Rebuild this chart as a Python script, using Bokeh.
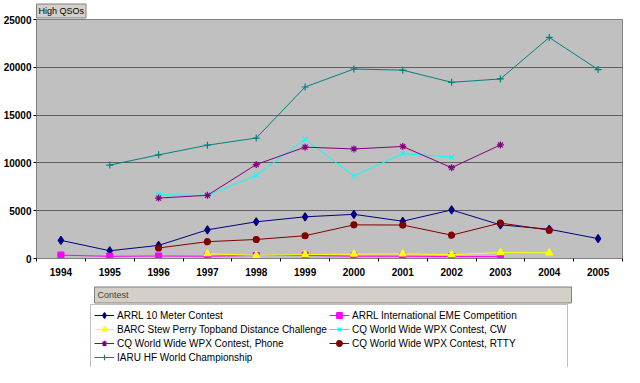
from bokeh.plotting import figure
from bokeh.layouts import column
from bokeh.models import (ColumnDataSource, Legend, LegendItem, Title, FixedTicker, Range1d)
from bokeh.embed import file_html
from bokeh.resources import INLINE

# ---- data ----
years = [1994, 1995, 1996, 1997, 1998, 1999, 2000, 2001, 2002, 2003, 2004, 2005]
y_ticks = [0, 5000, 10000, 15000, 20000, 25000]

arrl10_years = [1994, 1995, 1996, 1997, 1998, 1999, 2000, 2001, 2002, 2003, 2004, 2005]
arrl10_vals = [1900, 810, 1370, 3000, 3840, 4360, 4620, 3900, 5080, 3520, 3060, 2080]

eme_years = [1994, 1995, 1996, 1997, 1998, 1999, 2000, 2001, 2002, 2003]
eme_vals = [350, 230, 260, 240, 310, 320, 240, 240, 200, 200]

barc_years = [1997, 1998, 1999, 2000, 2001, 2002, 2003, 2004]
barc_vals = [500, 330, 400, 460, 480, 400, 620, 600]

cw_years = [1996, 1997, 1998, 1999, 2000, 2001, 2002]
cw_vals = [6670, 6600, 8690, 12470, 8620, 10970, 10610]

phone_years = [1996, 1997, 1998, 1999, 2000, 2001, 2002, 2003]
phone_vals = [6320, 6610, 9830, 11650, 11460, 11720, 9500, 11880]

rtty_years = [1996, 1997, 1998, 1999, 2000, 2001, 2002, 2003, 2004]
rtty_vals = [1100, 1760, 1990, 2380, 3520, 3500, 2440, 3710, 2960]

iaru_years = [1995, 1996, 1997, 1998, 1999, 2000, 2001, 2002, 2003, 2004, 2005]
iaru_vals = [9770, 10840, 11850, 12600, 17940, 19820, 19700, 18430, 18780, 23120, 19760]

series = [
    ("ARRL 10 Meter Contest", arrl10_years, arrl10_vals, "#000080", "diamond", 8),
    ("ARRL International EME Competition", eme_years, eme_vals, "#FF00FF", "square", 6),
    ("BARC Stew Perry Topband Distance Challenge", barc_years, barc_vals, "#FFFF00", "triangle", 7),
    ("CQ World Wide WPX Contest, CW", cw_years, cw_vals, "#00FFFF", "x", 7),
    ("CQ World Wide WPX Contest, Phone", phone_years, phone_vals, "#800080", "asterisk", 7),
    ("CQ World Wide WPX Contest, RTTY", rtty_years, rtty_vals, "#800000", "circle", 6),
    ("IARU HF World Championship", iaru_years, iaru_vals, "#008080", "cross", 7),
]
# legend fills column by column; Excel lists row by row in 2 columns
legend_order = [0, 2, 4, 6, 1, 3, 5]

W = 624
H_MAIN, H_LEG = 282, 85

# ---------------- main chart ----------------
p = figure(width=W, height=H_MAIN, output_backend="svg", toolbar_location=None,
           x_range=Range1d(years[0] - 0.5, years[-1] + 0.5),
           y_range=Range1d(y_ticks[0], y_ticks[-1]))
p.min_border_left = 34
p.min_border_right = 2
p.min_border_top = 0
p.min_border_bottom = 24
p.background_fill_color = "#C0C0C0"
p.border_fill_color = "white"
p.outline_line_color = "#808080"
p.outline_line_width = 1

# "High QSOs" field button as the title
p.title = Title(text="High QSOs", align="left", offset=0, standoff=3,
                text_font="Liberation Sans", text_font_size="9px", text_font_style="normal",
                text_color="black", background_fill_color="#D4D0C8",
                border_line_color="#808080", padding=2)

p.xaxis.ticker = FixedTicker(ticks=years, minor_ticks=[y - 0.5 for y in years] + [years[-1] + 0.5])
p.xaxis.major_tick_out = 0
p.xaxis.major_tick_in = 0
p.xaxis.minor_tick_out = 3
p.xaxis.minor_tick_in = 0
p.xaxis.minor_tick_line_color = "black"
p.xaxis.axis_line_color = "#808080"
p.xaxis.major_label_text_font = "Liberation Sans"
p.xaxis.major_label_text_font_style = "bold"
p.xaxis.major_label_text_font_size = "10px"
p.xaxis.major_label_text_color = "black"
p.xaxis.major_label_standoff = 6

p.yaxis.ticker = FixedTicker(ticks=y_ticks)
p.yaxis.major_tick_out = 3
p.yaxis.major_tick_in = 0
p.yaxis.minor_tick_out = 0
p.yaxis.minor_tick_in = 0
p.yaxis.major_tick_line_color = "black"
p.yaxis.axis_line_color = "#808080"
p.yaxis.major_label_text_font = "Liberation Sans"
p.yaxis.major_label_text_font_style = "bold"
p.yaxis.major_label_text_font_size = "10px"
p.yaxis.major_label_text_color = "black"
p.yaxis.major_label_standoff = 2

p.xgrid.grid_line_color = None
p.ygrid.grid_line_color = "#606060"
p.ygrid.grid_line_width = 1

# ---------------- legend panel (own figure, data kept out of view) ----------------
pl = figure(width=W, height=H_LEG, output_backend="svg", toolbar_location=None,
            x_axis_type=None, y_axis_type=None,
            x_range=Range1d(0, 1), y_range=Range1d(0, 1))
pl.min_border_left = 34
pl.min_border_right = 2
pl.min_border_top = 22
pl.min_border_bottom = 0
pl.background_fill_color = "white"
pl.border_fill_color = "white"
pl.outline_line_color = None
pl.title = Title(text="Contest", align="left", offset=58, standoff=3,
                 text_font="Liberation Sans", text_font_size="9px", text_font_style="normal",
                 text_color="#404040", background_fill_color="#D4D0C8",
                 border_line_color="#808080",
                 padding=dict(left=3, right=443, top=3, bottom=3))

items = []
for name, xs, ys, color, marker, size in series:
    src = ColumnDataSource(dict(x=xs, y=ys))
    p.line("x", "y", source=src, line_color=color, line_width=1)
    p.scatter("x", "y", source=src, marker=marker, size=size,
              fill_color=color, line_color=color, line_width=1.2)
    l1 = pl.line("x", "y", source=src, line_color=color, line_width=1)
    l2 = pl.scatter("x", "y", source=src, marker=marker, size=size,
                    fill_color=color, line_color=color, line_width=1.2)
    items.append(LegendItem(label=name, renderers=[l1, l2]))
items = [items[i] for i in legend_order]

legend = Legend(items=items, ncols=2, location="top",
                label_text_font="Liberation Sans", label_text_font_size="10px",
                label_text_color="black", label_height=14, label_width=212,
                glyph_width=20, glyph_height=14, label_standoff=3,
                spacing=0, padding=3, margin=0,
                border_line_color="#808080", border_line_width=1,
                background_fill_color="white", background_fill_alpha=1.0)
pl.add_layout(legend)

layout = column(p, pl, spacing=0)
open("out.html", "w").write(file_html(layout, INLINE))
